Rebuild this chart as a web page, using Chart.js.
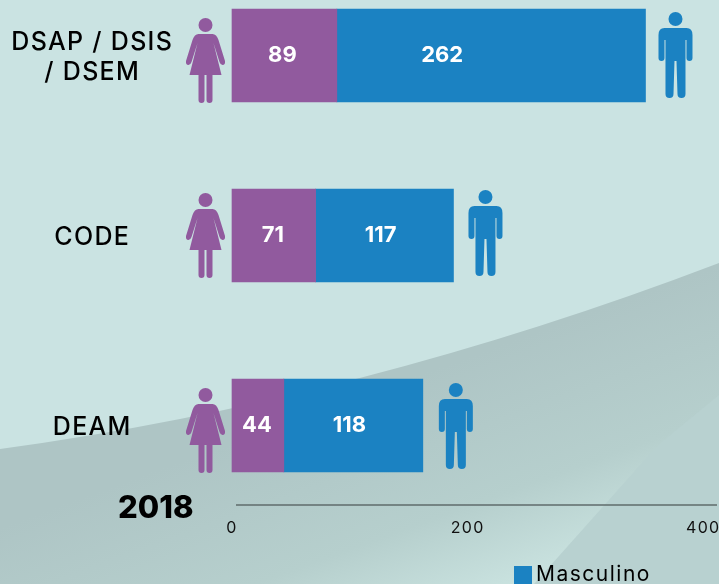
<!DOCTYPE html>
<html>
<head>
<meta charset="utf-8">
<style>
  html, body { margin: 0; padding: 0; width: 719px; height: 584px; overflow: hidden; background: #cae3e2; }
</style>
</head>
<body>
<canvas id="myChart" width="719" height="584"></canvas>
<script src="https://cdn.jsdelivr.net/npm/chart.js@4/dist/chart.umd.min.js"></script>
<script>
const categories = [['DSAP / DSIS', '/ DSEM'], 'CODE', 'DEAM'];
const femenino = [89, 71, 44];
const masculino = [262, 117, 118];
const xTicks = [0, 200, 400];
const yearLabel = '2018';

const PURPLE = '#915a9e';
const BLUE = '#1b82c2';
const FONT = 'Inter, sans-serif';

// rows in the reference are not evenly spaced, middle one sits a bit higher
const rowNudge = [0, -5, 0];
// value labels are not centred in the original either
const femDx = [-2, -1, -1];
const mascDx = [-49, -4, -4];
const manDx = [30, 32, 33];
const manDy = [0, -2, 1];
const womanDy = [0, -5, 0];

class RowScale extends Chart.CategoryScale {
  getPixelForValue(value, index) {
    const i = Math.round(value);
    return super.getPixelForValue(value, index) + (rowNudge[i] || 0);
  }
  drawLabels(area) {
    this.ctx.save();
    this.ctx.translate(0, 2);
    super.drawLabels(area);
    this.ctx.restore();
  }
}
RowScale.id = 'rowScale';
RowScale.defaults = Chart.CategoryScale.defaults;
Chart.register(RowScale);

function drawWoman(c, x, top) {
  c.fillStyle = PURPLE;
  c.beginPath();
  c.arc(x, top + 16, 7, 0, Math.PI * 2);
  c.fill();
  c.beginPath();
  c.moveTo(x - 7, top + 25);
  c.lineTo(x + 7, top + 25);
  c.quadraticCurveTo(x + 11, top + 25, x + 13, top + 31);
  c.lineTo(x + 19.5, top + 52);
  c.quadraticCurveTo(x + 20, top + 56, x + 17, top + 56);
  c.quadraticCurveTo(x + 15, top + 56, x + 14, top + 53);
  c.lineTo(x + 8, top + 34);
  c.lineTo(x + 16, top + 66);
  c.lineTo(x + 7, top + 66);
  c.lineTo(x + 7, top + 91);
  c.arc(x + 4, top + 91, 3, 0, Math.PI);
  c.lineTo(x + 1, top + 66);
  c.lineTo(x - 1, top + 66);
  c.lineTo(x - 1, top + 91);
  c.arc(x - 4, top + 91, 3, 0, Math.PI);
  c.lineTo(x - 7, top + 66);
  c.lineTo(x - 16, top + 66);
  c.lineTo(x - 8, top + 34);
  c.lineTo(x - 14, top + 53);
  c.quadraticCurveTo(x - 15, top + 56, x - 17, top + 56);
  c.quadraticCurveTo(x - 20, top + 56, x - 19.5, top + 52);
  c.lineTo(x - 13, top + 31);
  c.quadraticCurveTo(x - 11, top + 25, x - 7, top + 25);
  c.closePath();
  c.fill();
}

function drawMan(c, x, top) {
  c.fillStyle = BLUE;
  c.beginPath();
  c.arc(x, top + 10, 7, 0, Math.PI * 2);
  c.fill();
  c.beginPath();
  c.moveTo(x - 11, top + 19);
  c.lineTo(x + 11, top + 19);
  c.quadraticCurveTo(x + 17, top + 19, x + 17, top + 26);
  c.lineTo(x + 17, top + 49);
  c.arc(x + 14, top + 49, 3, 0, Math.PI);
  c.lineTo(x + 11, top + 31);
  c.lineTo(x + 10, top + 31);
  c.lineTo(x + 10, top + 85);
  c.arc(x + 6, top + 85, 4, 0, Math.PI);
  c.lineTo(x + 1, top + 52);
  c.lineTo(x - 1, top + 52);
  c.lineTo(x - 2, top + 85);
  c.arc(x - 6, top + 85, 4, 0, Math.PI);
  c.lineTo(x - 10, top + 31);
  c.lineTo(x - 11, top + 31);
  c.lineTo(x - 11, top + 49);
  c.arc(x - 14, top + 49, 3, 0, Math.PI);
  c.lineTo(x - 17, top + 26);
  c.quadraticCurveTo(x - 17, top + 19, x - 11, top + 19);
  c.closePath();
  c.fill();
}

const backdrop = {
  id: 'backdrop',
  beforeDraw(chart) {
    const c = chart.ctx;
    c.save();
    c.fillStyle = '#cae3e2';
    c.fillRect(0, 0, 719, 584);
    // big grey swoosh
    const g = c.createLinearGradient(350, 400, 430, 620);
    g.addColorStop(0, '#aec5c5');
    g.addColorStop(0.6, '#b6cfcd');
    g.addColorStop(1, '#cae3e0');
    c.fillStyle = g;
    c.beginPath();
    c.moveTo(0, 449);
    c.quadraticCurveTo(360, 400, 719, 263);
    c.lineTo(719, 584);
    c.lineTo(0, 584);
    c.closePath();
    c.fill();
    // darker wedge bottom right
    c.fillStyle = '#b8d1d0';
    c.beginPath();
    c.moveTo(658, 445);
    c.lineTo(719, 395);
    c.lineTo(719, 584);
    c.lineTo(534, 584);
    c.closePath();
    c.fill();
    c.restore();
    // the original type is wider than anything installed
    c.letterSpacing = '1.3px';
  }
};

const overlays = {
  id: 'overlays',
  afterDatasetsDraw(chart) {
    const c = chart.ctx;
    const fem = chart.getDatasetMeta(0).data;
    const masc = chart.getDatasetMeta(1).data;
    c.save();

    // value labels
    c.letterSpacing = '0px';
    c.fillStyle = '#ffffff';
    c.font = 'bold 22px ' + FONT;
    c.textAlign = 'center';
    c.textBaseline = 'middle';
    fem.forEach((bar, i) => {
      c.fillText(femenino[i], (bar.base + bar.x) / 2 + femDx[i], bar.y);
    });
    masc.forEach((bar, i) => {
      c.fillText(masculino[i], (bar.base + bar.x) / 2 + mascDx[i], bar.y);
    });

    // people either side of the bar
    fem.forEach((bar, i) => {
      drawWoman(c, chart.chartArea.left - 26.5, bar.y - bar.height / 2 + womanDy[i]);
    });
    masc.forEach((bar, i) => {
      drawMan(c, bar.x + manDx[i], bar.y - bar.height / 2 + manDy[i]);
    });

    // year
    c.fillStyle = '#000000';
    c.font = '800 31px ' + FONT;
    c.textAlign = 'left';
    c.textBaseline = 'alphabetic';
    c.fillText(yearLabel, 118, 518);

    // axis line starts a little right of the bars
    c.strokeStyle = '#5f6b6b';
    c.lineWidth = 1.5;
    c.beginPath();
    c.moveTo(236, 505);
    c.lineTo(717, 505);
    c.stroke();

    // legend, the second entry falls outside the picture
    c.fillStyle = BLUE;
    c.fillRect(514, 566, 18, 18);
    c.fillStyle = '#000000';
    c.letterSpacing = '1.5px';
    c.font = '21px ' + FONT;
    c.fillText(chart.data.datasets[1].label, 536, 581);
    c.restore();
  }
};

new Chart(document.getElementById('myChart'), {
  type: 'bar',
  data: {
    labels: categories,
    datasets: [
      { label: 'Femenino', data: femenino, backgroundColor: PURPLE, barThickness: 93, clip: false },
      { label: 'Masculino', data: masculino, backgroundColor: BLUE, barThickness: 93, clip: false }
    ]
  },
  options: {
    indexAxis: 'y',
    responsive: false,
    animation: false,
    layout: { padding: { top: 55.5 } },
    plugins: { legend: { display: false }, tooltip: { enabled: false } },
    scales: {
      x: {
        stacked: true,
        min: 0,
        max: 413.4,
        afterBuildTicks(axis) { axis.ticks = xTicks.map(v => ({ value: v })); },
        grid: { display: false, drawTicks: false },
        border: { display: false },
        ticks: { color: '#111111', font: { family: FONT, size: 16 }, padding: 93, maxRotation: 0 },
        afterFit(axis) {
          axis.height = 158.5;
          axis.paddingLeft = 0;
          axis.paddingRight = 0;
        }
      },
      y: {
        type: 'rowScale',
        stacked: true,
        offset: false,
        grid: { display: false, drawTicks: false },
        border: { display: false },
        ticks: { color: '#000000', font: { family: FONT, size: 25, weight: 500 }, crossAlign: 'center', padding: 66 },
        afterFit(axis) {
          axis.width = 232;
          axis.paddingTop = 0;
          axis.paddingBottom = 0;
        }
      }
    }
  },
  plugins: [backdrop, overlays]
});
</script>
</body>
</html>
